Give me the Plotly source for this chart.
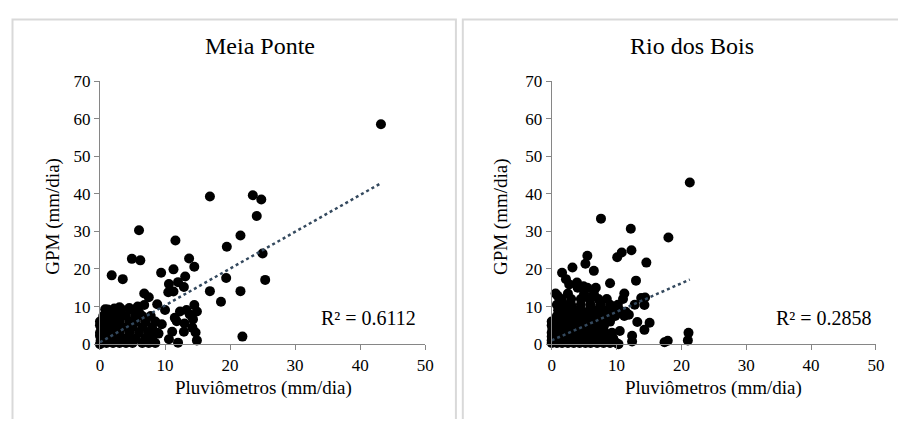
import numpy as np
import plotly.graph_objects as go

# ---- data ----
TITLES = ["Meia Ponte", "Rio dos Bois"]
R2_LABELS = ["R² = 0.6112", "R² = 0.2858"]
# linear trend: (slope, intercept)
TRENDS = [(0.98, 0.5), (0.76, 1.0)]

mp_x = [
    43.2, 16.9, 23.5, 24.8, 24.1, 6.0, 11.6, 21.6, 19.5, 4.9, 6.2, 13.7, 14.5, 25.0, 25.4,
    19.4, 1.8, 3.5, 11.3, 9.4, 13.1, 12.0, 12.9, 10.5, 11.3, 10.6, 16.9, 21.6, 18.6, 21.9,
    6.8, 7.5, 8.8, 14.5, 14.9, 0.8, 12.0, 14.9, 14.7,
    10.0, 12.3, 13.3, 14.3, 11.8, 11.1, 12.9, 10.6, 13.8, 9.5, 9.0, 14.2, 13.0, 11.5,
    0.2, 1.0, 2.0, 3.0, 4.0, 5.0, 6.5, 7.5, 8.5,
    0.5, 1.5, 2.5, 3.5, 4.5, 5.5, 7.0, 8.0,
    0.0, 1.0, 2.0, 3.0, 4.5, 6.0, 7.5, 8.8,
    0.3, 1.3, 2.3, 3.5, 5.0, 6.5, 8.0,
    0.0, 1.0, 2.0, 3.0, 4.5, 5.5, 7.0, 8.5,
    0.5, 1.5, 2.8, 4.0, 5.5, 6.5, 7.8,
    1.2, 2.2, 3.3, 4.5, 5.8, 6.8,
    0.0, 0.1, 0.0, 0.2, 0.0, 3.0, 5.0, 6.0, 2.0,
]
mp_y = [
    58.5, 39.3, 39.6, 38.5, 34.1, 30.3, 27.6, 28.9, 25.9, 22.7, 22.3, 22.8, 20.6, 24.1, 17.1,
    17.6, 18.3, 17.3, 19.9, 19.0, 18.0, 16.5, 15.2, 13.8, 14.0, 16.0, 14.1, 14.1, 11.3, 2.0,
    13.5, 12.5, 10.6, 10.4, 8.7, 9.3, 0.4, 1.0, 3.1,
    9.1, 8.7, 9.1, 6.6, 6.1, 3.3, 3.3, 1.3, 7.9, 5.3, 2.8, 4.4, 5.5, 7.0,
    0.3, 0.3, 0.3, 0.3, 0.3, 0.3, 0.3, 0.3, 0.3,
    1.5, 1.5, 1.5, 1.5, 1.5, 1.5, 1.5, 1.5,
    3.0, 3.0, 3.0, 3.0, 3.0, 3.0, 3.0, 3.0,
    4.5, 4.5, 4.5, 4.5, 4.5, 4.5, 4.5,
    6.0, 6.0, 6.0, 6.0, 6.0, 6.0, 6.0, 6.0,
    7.5, 7.5, 7.5, 7.5, 7.5, 7.5, 7.5,
    9.2, 9.5, 9.3, 9.6, 10.0, 10.4,
    0.0, 1.0, 2.2, 4.0, 5.0, 9.8, 9.0, 8.5, 8.0,
]

rb_x = [
    21.3, 7.6, 12.2, 18.0, 12.3, 10.8, 10.1, 5.5, 5.2, 3.2, 6.5, 1.6, 14.6, 13.0, 9.0,
    2.2, 2.7, 3.9, 4.9, 0.6, 11.2, 13.8, 14.4, 14.3, 13.2, 15.1, 14.3, 21.1, 21.0, 17.9,
    17.4, 10.5, 12.4, 12.4, 10.3, 9.1, 8.3, 9.6, 11.4, 11.9, 12.8, 0.9,
    0.0, 0.8, 1.6, 2.5, 3.4, 4.3, 5.2, 6.0, 7.0, 8.0, 9.0, 10.0,
    0.3, 1.2, 2.0, 3.0, 4.0, 5.0, 6.2, 7.5, 8.5, 9.5,
    0.0, 1.0, 2.0, 3.0, 4.0, 5.0, 6.0, 7.0, 8.2, 9.3,
    0.5, 1.5, 2.5, 3.5, 4.5, 5.5, 6.8, 8.0,
    0.0, 1.0, 2.0, 3.2, 4.2, 5.3, 6.5, 7.5, 9.0,
    0.8, 1.8, 2.8, 3.8, 5.0, 6.0, 7.2, 8.5, 9.8, 11.2,
    1.0, 2.2, 3.5, 4.5, 5.8, 7.0, 8.0, 9.2, 10.5,
    0.8, 2.0, 3.0, 4.5, 6.0, 7.5, 9.0, 10.2,
    1.5, 3.0, 4.5, 5.8, 7.2, 8.5, 11.0,
    2.5, 5.0, 6.5, 4.0, 5.5, 6.8,
    0.0, 0.0, 0.1, 0.0,
]
rb_y = [
    43.0, 33.4, 30.7, 28.4, 25.0, 24.4, 23.1, 23.5, 21.4, 20.4, 19.5, 19.0, 21.7, 16.9, 16.2,
    17.3, 15.9, 16.4, 15.4, 13.5, 13.5, 12.3, 12.4, 10.4, 5.9, 5.7, 3.8, 3.0, 1.0, 0.9,
    0.5, 3.5, 2.2, 0.7, 0.0, 7.2, 5.7, 9.5, 8.6, 7.8, 10.5, 12.9,
    0.3, 0.3, 0.3, 0.3, 0.3, 0.3, 0.3, 0.3, 0.3, 0.3, 0.3, 0.3,
    1.5, 1.5, 1.5, 1.5, 1.5, 1.5, 1.5, 1.5, 1.5, 1.5,
    3.0, 3.0, 3.0, 3.0, 3.0, 3.0, 3.0, 3.0, 3.0, 3.0,
    4.5, 4.5, 4.5, 4.5, 4.5, 4.5, 4.5, 4.5,
    6.0, 6.0, 6.0, 6.0, 6.0, 6.0, 6.0, 6.0, 6.0,
    7.5, 7.5, 7.5, 7.5, 7.5, 7.5, 7.5, 7.5, 7.5, 7.5,
    9.0, 9.0, 9.0, 9.0, 9.0, 9.0, 9.0, 9.0, 9.0,
    10.5, 10.5, 10.5, 10.5, 10.5, 10.5, 10.5, 10.5,
    12.0, 12.0, 12.0, 12.0, 12.0, 12.0, 12.0,
    13.5, 13.5, 13.5, 15.0, 15.0, 15.0,
    1.0, 2.0, 4.0, 5.0,
]

X_TICKS = [0, 10, 20, 30, 40, 50]
Y_TICKS = [0, 10, 20, 30, 40, 50, 60, 70]

# the page keeps the default 8px body margin, so the figure is drawn 16px
# smaller than the window and every target pixel is shifted by OFF
OFF = 8
W, H = 906 - 2 * OFF, 427 - 2 * OFF
FONT = "Liberation Serif, Times New Roman, serif"
AXIS_GRAY = "#868686"
BORDER = "#d9d9d9"

fig = go.Figure()

# plot-area positions in window pixels (left, right) and shared (top, bottom)
PANELS_X = [(97.3, 427.3), (555.7, 884.7)]
TOP, BOTTOM = 75.2, 351.0


def px(x):
    return (x - OFF) / W


def py(y):
    return 1 - (y - OFF) / H


series = [(mp_x, mp_y), (rb_x, rb_y)]
for i, (xs, ys) in enumerate(series):
    suffix = "" if i == 0 else "2"
    fig.add_trace(go.Scatter(
        x=xs, y=ys, mode="markers", xaxis="x" + suffix, yaxis="y" + suffix,
        marker=dict(size=10, color="black"), cliponaxis=False, showlegend=False,
    ))
    slope, icpt = TRENDS[i]
    tx = np.array([min(xs), max(xs)])
    fig.add_trace(go.Scatter(
        x=tx, y=slope * tx + icpt, mode="lines", xaxis="x" + suffix, yaxis="y" + suffix,
        line=dict(color="#34495e", width=2.5, dash="dot"), showlegend=False,
    ))

axis_common = dict(
    showgrid=False, zeroline=False, showline=True, linecolor=AXIS_GRAY, linewidth=1,
    ticks="outside", ticklen=5, tickcolor=AXIS_GRAY,
    tickfont=dict(family=FONT, size=17, color="black"),
)
layout = dict(
    width=W, height=H, margin=dict(l=0, r=0, t=0, b=0), autosize=False,
    paper_bgcolor="white", plot_bgcolor="white",
    font=dict(family=FONT, color="black"),
)
ydom = [py(BOTTOM), py(TOP)]
for i, (x0, x1) in enumerate(PANELS_X):
    suffix = "" if i == 0 else "2"
    layout["xaxis" + suffix] = dict(
        axis_common, domain=[px(x0), px(x1)], range=[0, 50], tickvals=X_TICKS,
        anchor="y" + suffix,
    )
    layout["yaxis" + suffix] = dict(
        axis_common, domain=ydom, range=[0, 70], tickvals=Y_TICKS,
        anchor="x" + suffix,
    )
fig.update_layout(**layout)

# chart borders, titles and labels (window pixel positions)
BOXES = [(8.5, 458.5), (465.5, 920)]
TITLE_X = [259.3, 698.3]
XTITLE_X = [263.3, 720.0]
YTITLE_X = [50.0, 505.0]
R2_X = [370.0, 831.7]


def label(text, x, y, size, angle=0):
    fig.add_annotation(text=text, xref="paper", yref="paper", x=px(x), y=py(y),
                       xanchor="center", yanchor="middle", showarrow=False,
                       textangle=angle, font=dict(family=FONT, size=size, color="black"))


for i in range(2):
    fig.add_shape(type="rect", xref="paper", yref="paper",
                  x0=px(BOXES[i][0]), x1=px(BOXES[i][1]), y0=py(445), y1=py(10.5),
                  line=dict(color=BORDER, width=2), layer="below")
    label(TITLES[i], TITLE_X[i], 38.5, 24)
    label("Pluviômetros (mm/dia)", XTITLE_X[i], 397.5, 19)
    label("GPM (mm/dia)", YTITLE_X[i], 217, 19, angle=-90)
    label(R2_LABELS[i], R2_X[i], 323.5, 20)

fig.write_html("out.html")
